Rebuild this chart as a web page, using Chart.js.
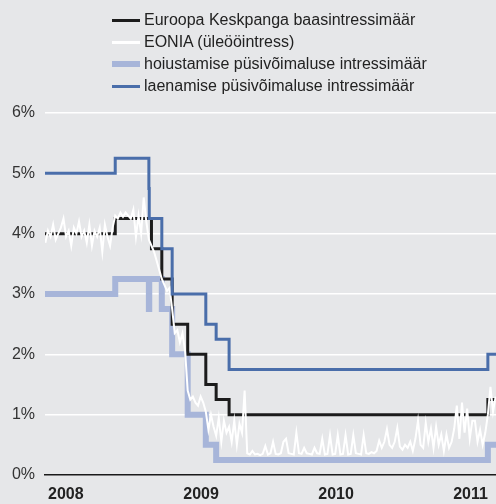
<!DOCTYPE html>
<html>

<head>
  <meta charset="utf-8" />
  <script src="https://cdn.jsdelivr.net/npm/chart.js"></script>
  <style>
    body { margin: 0; background: #e6e7e9; }
    #wrap { position: relative; width: 496px; height: 504px; }
    #legend { position: absolute; left: 112px; top: 9px; font: 16px "Liberation Sans", Arial, sans-serif; color: #222; }
    .item { height: 22px; display: flex; align-items: center; white-space: nowrap; }
    .swatch { width: 28px; margin-right: 4px; }
  </style>
</head>

<body>
  <div id="wrap">
    <canvas id="rates" width="496" height="504"></canvas>
    <div id="legend"></div>
  </div>

  <script>
    // ECB rate changes (value applies from that date on)
    const rateDates = ['2008-01-01', '2008-07-09', '2008-10-08', '2008-10-09', '2008-10-15', '2008-11-12',
      '2008-12-10', '2009-01-21', '2009-03-11', '2009-04-08', '2009-05-13', '2011-04-13', '2011-05-05'];
    const mroRate     = [4.00, 4.25, 4.25, 4.25, 3.75, 3.25, 2.50, 2.00, 1.50, 1.25, 1.00, 1.25, 1.25];
    const depositRate = [3.00, 3.25, 2.75, 3.25, 3.25, 2.75, 2.00, 1.00, 0.50, 0.25, 0.25, 0.50, 0.50];
    const lendingRate = [5.00, 5.25, 4.75, 4.25, 4.25, 3.75, 3.00, 3.00, 2.50, 2.25, 1.75, 2.00, 2.00];

    // EONIA, weekly readings from 2008-01-02
    const eoniaStart = '2008-01-02';
    const eoniaValues = [
      3.85, 4.05, 3.95, 4.15, 3.90, 4.00, 4.10, 4.25, 3.95, 4.05,
      3.80, 4.10, 4.00, 4.20, 3.95, 4.05, 3.85, 4.15, 3.80, 4.05,
      3.95, 4.10, 3.70, 4.15, 3.95, 3.80, 4.10, 4.30, 4.25, 4.35,
      4.28, 4.35, 4.30, 4.25, 4.40, 3.95, 4.30, 4.00, 4.60, 4.20,
      3.90, 3.80, 3.70, 3.55, 3.40, 3.25, 3.15, 3.05, 3.10, 2.75,
      2.35, 2.40, 2.20, 2.35, 2.05, 1.40, 1.25, 1.30, 1.20, 1.15,
      1.30, 1.20, 1.05, 0.75, 1.00, 0.80, 0.65, 0.95, 0.55, 0.90,
      0.70, 0.80, 0.55, 0.90, 0.50, 0.85, 0.70, 1.40, 0.36, 0.34,
      0.40, 0.34, 0.35, 0.33, 0.35, 0.48, 0.34, 0.36, 0.55, 0.35,
      0.34, 0.36, 0.55, 0.60, 0.36, 0.35, 0.34, 0.70, 0.36, 0.35,
      0.45, 0.36, 0.35, 0.34, 0.45, 0.36, 0.35, 0.60, 0.34, 0.35,
      0.66, 0.34, 0.35, 0.66, 0.34, 0.35, 0.66, 0.34, 0.35, 0.66,
      0.36, 0.35, 0.34, 0.66, 0.36, 0.35, 0.38, 0.36, 0.40, 0.57,
      0.45, 0.55, 0.76, 0.50, 0.45, 0.55, 0.78, 0.47, 0.42, 0.50,
      0.45, 0.55, 0.40, 0.60, 0.90, 0.50, 0.45, 0.86, 0.55, 0.77,
      0.45, 0.80, 0.50, 0.67, 0.40, 0.67, 0.45, 0.55, 0.77, 1.15,
      0.60, 1.20, 0.70, 1.10, 0.60, 0.90, 0.90, 0.55, 0.75, 0.50,
      0.70, 1.00, 1.46, 1.05, 1.30
    ];

    const yearLabels = ['2008', '2009', '2010', '2011'];
    const yearStarts = ['2008-01-01', '2009-01-01', '2010-01-01', '2011-01-01'];
    const axisEnd = '2011-05-05';
    const yTicks = [0, 1, 2, 3, 4, 5, 6];

    const labels = ['Euroopa Keskpanga baasintressimäär', 'EONIA (üleööintress)',
      'hoiustamise püsivõimaluse intressimäär', 'laenamise püsivõimaluse intressimäär'];

    // days since 2008-01-01
    function day(d) {
      return (Date.parse(d) - Date.parse('2008-01-01')) / 86400000;
    }

    function steps(values) {
      return values.map((v, i) => ({ x: day(rateDates[i]), y: v }));
    }

    const eonia = eoniaValues.map((v, i) => ({ x: day(eoniaStart) + 7 * i, y: v }));
    const font = '"Liberation Sans", Arial, sans-serif';

    const chart = new Chart(document.getElementById('rates'), {
      type: 'line',
      data: {
        datasets: [
          { label: labels[0], data: steps(mroRate), borderColor: '#1c1c1c', borderWidth: 3, stepped: true, order: 2 },
          { label: labels[1], data: eonia, borderColor: '#ffffff', borderWidth: 2, order: 1 },
          { label: labels[2], data: steps(depositRate), borderColor: '#a7b5d9', borderWidth: 6, stepped: true, order: 3 },
          { label: labels[3], data: steps(lendingRate), borderColor: '#4a6eaa', borderWidth: 3, stepped: true, order: 0 }
        ]
      },
      options: {
        responsive: false,
        animation: false,
        devicePixelRatio: 1,
        layout: { padding: { top: 113, left: 0, right: 0, bottom: 0 } },
        elements: { point: { radius: 0 }, line: { tension: 0, borderJoinStyle: 'miter' } },
        plugins: { legend: { display: false }, tooltip: { enabled: false } },
        scales: {
          x: {
            type: 'linear',
            min: 0,
            max: day(axisEnd),
            grid: { display: false, drawTicks: false },
            border: { color: '#1a1a1a', width: 1.5 },
            afterBuildTicks: s => { s.ticks = yearStarts.map(d => ({ value: day(d) })); },
            afterFit: s => { s.height = 29; },
            ticks: {
              align: 'start',
              labelOffset: 3,
              padding: 10,
              maxRotation: 0,
              autoSkip: false,
              color: '#222',
              font: { family: font, size: 16, weight: 'bold' },
              callback: v => yearLabels[yearStarts.map(day).indexOf(v)]
            }
          },
          y: {
            min: 0,
            max: 6,
            afterBuildTicks: s => { s.ticks = yTicks.map(v => ({ value: v })); },
            afterFit: s => { s.width = 45; },
            grid: {
              drawTicks: false,
              lineWidth: 1.5,
              color: c => c.tick && c.tick.value === 0 ? 'rgba(0,0,0,0)' : '#ffffff'
            },
            border: { display: false },
            ticks: {
              padding: 10,
              color: '#333',
              font: { family: font, size: 16 },
              callback: v => v + '%'
            }
          }
        }
      }
    });

    // legend as a single column, like the original
    const legend = document.getElementById('legend');
    chart.data.datasets.forEach(ds => {
      const item = document.createElement('div');
      item.className = 'item';
      const sw = document.createElement('span');
      sw.className = 'swatch';
      sw.style.height = Math.max(ds.borderWidth, 3) + 'px';
      sw.style.background = ds.borderColor;
      item.appendChild(sw);
      item.appendChild(document.createTextNode(ds.label));
      legend.appendChild(item);
    });
  </script>
</body>

</html>
